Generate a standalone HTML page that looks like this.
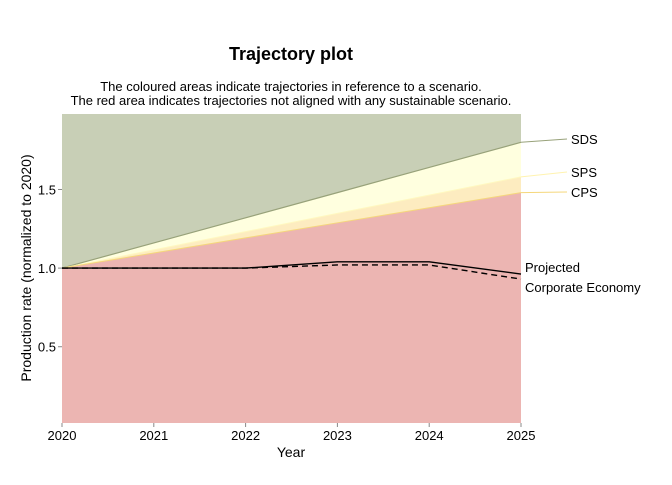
<!DOCTYPE html>
<html><head><meta charset="utf-8"><style>
body{margin:0;background:#fff;font-family:"Liberation Sans",sans-serif}
svg text{font-family:"Liberation Sans",sans-serif}
</style></head><body>
<svg id="c" width="672" height="480" xmlns="http://www.w3.org/2000/svg">
<text x="291" y="60" font-size="18" font-weight="bold" text-anchor="middle">Trajectory plot</text>
<text x="291" y="91" font-size="13" text-anchor="middle">The coloured areas indicate trajectories in reference to a scenario.</text>
<text x="291" y="105" font-size="13" text-anchor="middle">The red area indicates trajectories not aligned with any sustainable scenario.</text>
<g id="plot"></g>
<text x="291" y="457" font-size="14" text-anchor="middle">Year</text>
<text transform="translate(31,268) rotate(-90)" font-size="14" text-anchor="middle">Production rate (normalized to 2020)</text>
</svg>
<script>
const years=[2020,2021,2022,2023,2024,2025];
const sds=[1,1.16,1.32,1.48,1.64,1.80];
const sps=[1,1.116,1.232,1.348,1.464,1.58];
const cps=[1,1.096,1.192,1.288,1.384,1.48];
const projected=[1,1,1,1.04,1.04,0.962];
const corporate=[1,1,1,1.02,1.02,0.93];
const yTicks=[0.5,1.0,1.5];
const yMin=0.015,yMax=1.98;
const X0=62,X1=521,YT=114,YB=423;
const xs=v=>X0+(v-2020)/5*(X1-X0);
const ys=v=>YB-(v-yMin)/(yMax-yMin)*(YB-YT);
const g=document.getElementById('plot');
const NS='http://www.w3.org/2000/svg';
function mk(t,a){const e=document.createElementNS(NS,t);for(const k in a)e.setAttribute(k,a[k]);g.appendChild(e);return e;}
const pts=arr=>arr.map((v,i)=>xs(years[i])+','+ys(v)).join(' ');
let e;
e=mk('rect',{x:X0,y:YT,width:X1-X0,height:YB-YT,fill:'#c8cfb6'});

e=mk('polygon',{points:pts(sds)+' '+xs(2025)+','+YB+' '+X0+','+YB,fill:'#ffffdf'});

e=mk('polygon',{points:pts(sps)+' '+xs(2025)+','+YB+' '+X0+','+YB,fill:'#fdecc0'});

e=mk('polygon',{points:pts(cps)+' '+xs(2025)+','+YB+' '+X0+','+YB,fill:'#ecb5b2'});

e=mk('polyline',{points:pts(sds),fill:'none',stroke:'#98a27a','stroke-width':1.2});

e=mk('polyline',{points:pts(sps),fill:'none',stroke:'#fff8c0','stroke-width':1});

e=mk('polyline',{points:pts(cps),fill:'none',stroke:'#f5d77b','stroke-width':1});

e=mk('polyline',{points:pts(corporate),fill:'none',stroke:'#000','stroke-width':1.4,'stroke-dasharray':'6,4'});

e=mk('polyline',{points:pts(projected),fill:'none',stroke:'#000','stroke-width':1.4});

const labs=[['SDS',sds[5],139,'#98a27a'],['SPS',sps[5],172,'#fff3b0'],['CPS',cps[5],192,'#f5d77b']];
labs.forEach(l=>{
 e=mk('line',{x1:X1,y1:ys(l[1]),x2:567,y2:l[2],stroke:l[3],'stroke-width':1});
 
 e=mk('text',{x:571,y:l[2]+5,'font-size':13});e.textContent=l[0];
 
});
e=mk('text',{x:525,y:272,'font-size':13});e.textContent='Projected';

e=mk('text',{x:525,y:292,'font-size':13});e.textContent='Corporate Economy';

yTicks.forEach(t=>{
 e=mk('line',{x1:X0-4,x2:X0,y1:ys(t),y2:ys(t),stroke:'#888'});
 
 e=mk('text',{x:X0-6,y:ys(t)+5,'font-size':13,'text-anchor':'end'});e.textContent=t.toFixed(1);
 
});
years.forEach(y=>{
 e=mk('line',{x1:xs(y),x2:xs(y),y1:YB,y2:YB+4,stroke:'#888'});
 
 e=mk('text',{x:xs(y),y:YB+17,'font-size':13,'text-anchor':'middle'});e.textContent=y;
 
});
</script>
</body></html>
